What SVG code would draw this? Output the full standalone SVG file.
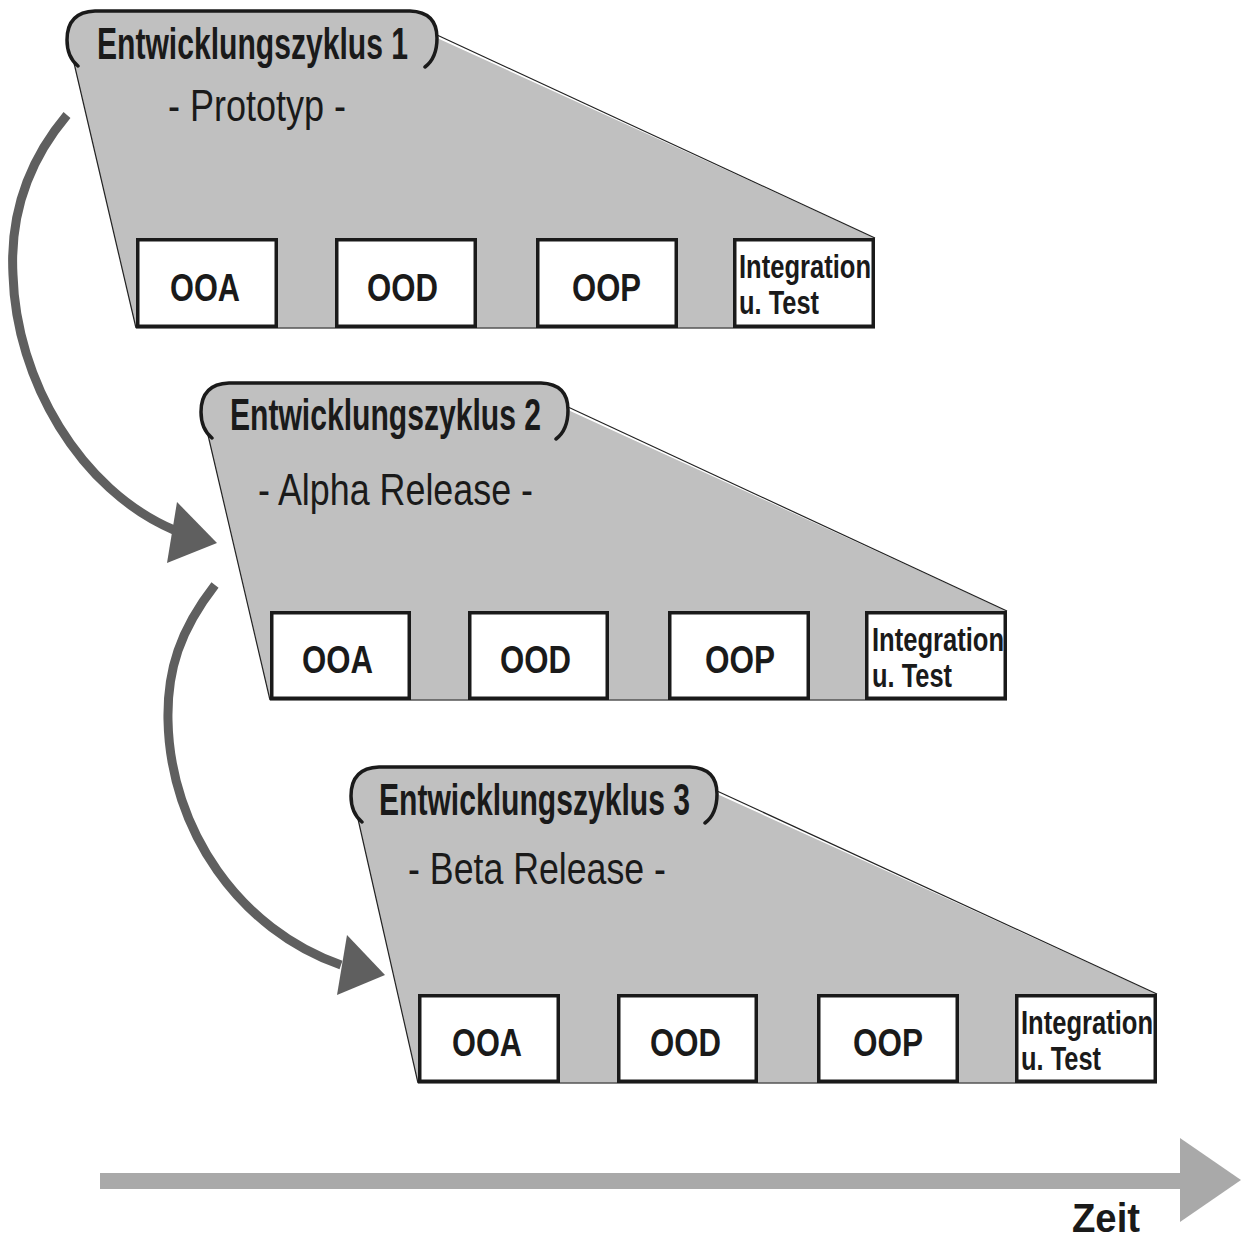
<svg xmlns="http://www.w3.org/2000/svg" width="1242" height="1241" viewBox="0 0 1242 1241">
<defs>
<style>
.bg{fill:#c0c0c0;stroke:none}
.edge{fill:none;stroke:#222;stroke-width:1.2}
.base{fill:none;stroke:#555;stroke-width:1.3}
.hdr{fill:none;stroke:#1a1a1a;stroke-width:3.5;stroke-linecap:round}
.box{fill:#fff;stroke:#1a1a1a;stroke-width:3.5}
.t{font-family:"Liberation Sans",Arial,sans-serif;fill:#1a1a1a}
.h{font-size:45px;font-weight:bold}
.s{font-size:44px}
.b{font-size:39px;font-weight:bold}
.i{font-size:33px;font-weight:bold}
.arc{fill:none;stroke:#5f5f5f;stroke-width:9}
.head{fill:#5f5f5f}
.time{fill:#a9a9a9}
</style>
</defs>
<rect width="1242" height="1241" fill="#fff"/>

<g id="cycle1">
<path class="bg" d="M74,63 Q67,55 67,40 Q67,11 95,11 L410,11 Q437,11 437,38 L875,238 L875,328 L136,328 Z"/>
<line class="edge" x1="74" y1="63" x2="136" y2="328"/>
<line class="edge" x1="437" y1="35" x2="875" y2="238"/>
<line class="base" x1="136" y1="328" x2="875" y2="328"/>
<path class="hdr" d="M78,66 Q67,57 67,40 Q67,12 95,11 L410,11 Q437,12 437,38 Q437,58 425,67"/>
<text class="t h" x="97" y="59" textLength="311" lengthAdjust="spacingAndGlyphs">Entwicklungszyklus 1</text>
<text class="t s" x="168" y="121" textLength="178" lengthAdjust="spacingAndGlyphs">- Prototyp -</text>
<g id="c1-ooa"><rect class="box" x="137.75" y="239.75" width="138.5" height="86.5"/><text class="t b" x="170" y="301" textLength="70" lengthAdjust="spacingAndGlyphs">OOA</text></g>
<g id="c1-ood"><rect class="box" x="336.75" y="239.75" width="138.5" height="86.5"/><text class="t b" x="367" y="301" textLength="71" lengthAdjust="spacingAndGlyphs">OOD</text></g>
<g id="c1-oop"><rect class="box" x="537.75" y="239.75" width="138.5" height="86.5"/><text class="t b" x="572" y="301" textLength="69" lengthAdjust="spacingAndGlyphs">OOP</text></g>
<g id="c1-int"><rect class="box" x="734.75" y="239.75" width="138.5" height="86.5"/><text class="t i" x="739" y="278" textLength="132" lengthAdjust="spacingAndGlyphs">Integration</text><text class="t i" x="739" y="314" textLength="80" lengthAdjust="spacingAndGlyphs">u. Test</text></g>
</g>

<g id="cycle2">
<path class="bg" d="M208,435 Q201,427 201,412 Q201,383 229,383 L541,383 Q568,383 568,410 L1007,611 L1007,700 L270,700 Z"/>
<line class="edge" x1="208" y1="435" x2="270" y2="700"/>
<line class="edge" x1="568" y1="407" x2="1007" y2="611"/>
<line class="base" x1="270" y1="700" x2="1007" y2="700"/>
<path class="hdr" d="M212,438 Q201,429 201,412 Q201,384 229,383 L541,383 Q568,384 568,410 Q568,430 556,439"/>
<text class="t h" x="230" y="430" textLength="311" lengthAdjust="spacingAndGlyphs">Entwicklungszyklus 2</text>
<text class="t s" x="258" y="505" textLength="275" lengthAdjust="spacingAndGlyphs">- Alpha Release -</text>
<g id="c2-ooa"><rect class="box" x="271.75" y="612.75" width="137.5" height="85.5"/><text class="t b" x="302" y="673" textLength="71" lengthAdjust="spacingAndGlyphs">OOA</text></g>
<g id="c2-ood"><rect class="box" x="469.75" y="612.75" width="137.5" height="85.5"/><text class="t b" x="500" y="673" textLength="71" lengthAdjust="spacingAndGlyphs">OOD</text></g>
<g id="c2-oop"><rect class="box" x="669.75" y="612.75" width="138.5" height="85.5"/><text class="t b" x="705" y="673" textLength="70" lengthAdjust="spacingAndGlyphs">OOP</text></g>
<g id="c2-int"><rect class="box" x="866.75" y="612.75" width="138.5" height="85.5"/><text class="t i" x="872" y="651" textLength="132" lengthAdjust="spacingAndGlyphs">Integration</text><text class="t i" x="872" y="687" textLength="80" lengthAdjust="spacingAndGlyphs">u. Test</text></g>
</g>

<g id="cycle3">
<path class="bg" d="M358,819 Q351,811 351,796 Q351,767 379,767 L690,767 Q717,767 717,794 L1157,994 L1157,1083 L418,1083 Z"/>
<line class="edge" x1="358" y1="819" x2="418" y2="1083"/>
<line class="edge" x1="717" y1="791" x2="1157" y2="994"/>
<line class="base" x1="418" y1="1083" x2="1157" y2="1083"/>
<path class="hdr" d="M362,822 Q351,813 351,796 Q351,768 379,767 L690,767 Q717,768 717,794 Q717,814 705,823"/>
<text class="t h" x="379" y="815" textLength="311" lengthAdjust="spacingAndGlyphs">Entwicklungszyklus 3</text>
<text class="t s" x="408" y="884" textLength="258" lengthAdjust="spacingAndGlyphs">- Beta Release -</text>
<g id="c3-ooa"><rect class="box" x="419.75" y="995.75" width="138.5" height="85.5"/><text class="t b" x="452" y="1056" textLength="70" lengthAdjust="spacingAndGlyphs">OOA</text></g>
<g id="c3-ood"><rect class="box" x="618.75" y="995.75" width="137.5" height="85.5"/><text class="t b" x="650" y="1056" textLength="71" lengthAdjust="spacingAndGlyphs">OOD</text></g>
<g id="c3-oop"><rect class="box" x="818.75" y="995.75" width="138.5" height="85.5"/><text class="t b" x="853" y="1056" textLength="70" lengthAdjust="spacingAndGlyphs">OOP</text></g>
<g id="c3-int"><rect class="box" x="1016.75" y="995.75" width="138.5" height="85.5"/><text class="t i" x="1021" y="1034" textLength="132" lengthAdjust="spacingAndGlyphs">Integration</text><text class="t i" x="1021" y="1070" textLength="80" lengthAdjust="spacingAndGlyphs">u. Test</text></g>
</g>

<g id="connectors">
<path class="arc" d="M67,115 C25,165 10,220 13,275 C16,380 80,490 174,530"/>
<polygon class="head" points="177,502 217,543 167,563"/>
<path class="arc" d="M215,585 C180,630 167,670 168,720 C170,830 240,930 341,965"/>
<polygon class="head" points="347,935 385,975 337,995"/>
</g>

<g id="time">
<rect class="time" x="100" y="1173" width="1082" height="16"/>
<polygon class="time" points="1180,1138 1241,1180 1180,1222"/>
<text class="t" x="1072" y="1232" font-size="40" font-weight="bold" textLength="68" lengthAdjust="spacingAndGlyphs">Zeit</text>
</g>
</svg>
